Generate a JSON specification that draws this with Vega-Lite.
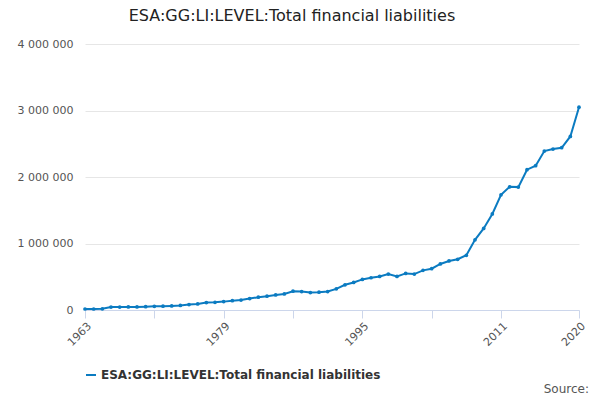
{
  "$schema": "https://vega.github.io/schema/vega-lite/v6.json",
  "width": 494,
  "height": 266,
  "padding": {"left": 17, "top": 8, "right": 9, "bottom": 5},
  "background": "white",
  "title": {"text": "ESA:GG:LI:LEVEL:Total financial liabilities", "font": "DejaVu Sans", "fontSize": 16, "fontWeight": "normal", "color": "#222", "anchor": "middle", "dx": -40, "offset": 14},
  "config": {"view": {"stroke": null}, "font": "DejaVu Sans"},
  "data": {"values": [
    {"year": 1963, "v": 15000}, {"year": 1964, "v": 15000}, {"year": 1965, "v": 18000}, {"year": 1966, "v": 45000},
    {"year": 1967, "v": 45000}, {"year": 1968, "v": 46000}, {"year": 1969, "v": 46000}, {"year": 1970, "v": 50000},
    {"year": 1971, "v": 55000}, {"year": 1972, "v": 58000}, {"year": 1973, "v": 62000}, {"year": 1974, "v": 68000},
    {"year": 1975, "v": 81000}, {"year": 1976, "v": 91000}, {"year": 1977, "v": 111000}, {"year": 1978, "v": 116000},
    {"year": 1979, "v": 126000}, {"year": 1980, "v": 140000}, {"year": 1981, "v": 150000}, {"year": 1982, "v": 172000},
    {"year": 1983, "v": 192000}, {"year": 1984, "v": 207000}, {"year": 1985, "v": 227000}, {"year": 1986, "v": 242000},
    {"year": 1987, "v": 283000}, {"year": 1988, "v": 278000}, {"year": 1989, "v": 263000}, {"year": 1990, "v": 268000},
    {"year": 1991, "v": 278000}, {"year": 1992, "v": 318000}, {"year": 1993, "v": 379000}, {"year": 1994, "v": 414000},
    {"year": 1995, "v": 460000}, {"year": 1996, "v": 485000}, {"year": 1997, "v": 505000}, {"year": 1998, "v": 540000},
    {"year": 1999, "v": 505000}, {"year": 2000, "v": 550000}, {"year": 2001, "v": 540000}, {"year": 2002, "v": 596000},
    {"year": 2003, "v": 621000}, {"year": 2004, "v": 692000}, {"year": 2005, "v": 737000}, {"year": 2006, "v": 763000},
    {"year": 2007, "v": 823000}, {"year": 2008, "v": 1056000}, {"year": 2009, "v": 1227000}, {"year": 2010, "v": 1444000},
    {"year": 2011, "v": 1732000}, {"year": 2012, "v": 1853000}, {"year": 2013, "v": 1848000}, {"year": 2014, "v": 2110000},
    {"year": 2015, "v": 2170000}, {"year": 2016, "v": 2390000}, {"year": 2017, "v": 2420000}, {"year": 2018, "v": 2440000},
    {"year": 2019, "v": 2610000}, {"year": 2020, "v": 3050000}
  ]},
  "transform": [{"calculate": "'ESA:GG:LI:LEVEL:Total financial liabilities'", "as": "series"}],
  "layer": [
    {
      "mark": {"type": "line", "color": "#0b7bc1", "strokeWidth": 2, "point": {"size": 14, "filled": true, "color": "#0b7bc1"}},
      "encoding": {
        "x": {"field": "year", "type": "quantitative", "scale": {"domain": [1963, 2020], "nice": false, "zero": false}, "title": null,
          "axis": {"values": [1963, 1967, 1971, 1975, 1979, 1983, 1987, 1991, 1995, 1999, 2003, 2007, 2011, 2015, 2020],
            "labelExpr": "indexof([1963,1979,1995,2011,2020], datum.value) >= 0 ? datum.value : ''",
            "labelAngle": -45, "labelAlign": "right", "labelColor": "#555", "labelFontSize": 11, "grid": false,
            "domainColor": "#ccd6eb", "tickColor": "#ccd6eb", "tickSize": 8}},
        "y": {"field": "v", "type": "quantitative", "scale": {"domain": [0, 4000000]}, "title": null,
          "axis": {"values": [0, 1000000, 2000000, 3000000, 4000000],
            "labelExpr": "replace(replace(format(datum.value, ','), ',', ' '), ',', ' ')",
            "domain": false, "ticks": false, "gridColor": "#e6e6e6", "labelColor": "#555", "labelFontSize": 11, "labelPadding": 12}},
        "color": {"field": "series", "type": "nominal", "scale": {"range": ["#0b7bc1"]}, "title": null,
          "legend": {"orient": "bottom", "direction": "horizontal", "symbolType": "stroke", "symbolStrokeWidth": 2, "labelFontSize": 12, "labelFontWeight": "bold", "labelColor": "#333", "offset": 21, "labelLimit": 400}}
      }
    },
    {
      "data": {"values": [{"label": "Source:"}]},
      "mark": {"type": "text", "align": "right", "fontSize": 12, "color": "#555", "dy": 79, "dx": 10},
      "encoding": {"text": {"field": "label"}, "x": {"datum": 2020, "type": "quantitative"}, "y": {"datum": 0, "type": "quantitative"}}
    }
  ]
}
